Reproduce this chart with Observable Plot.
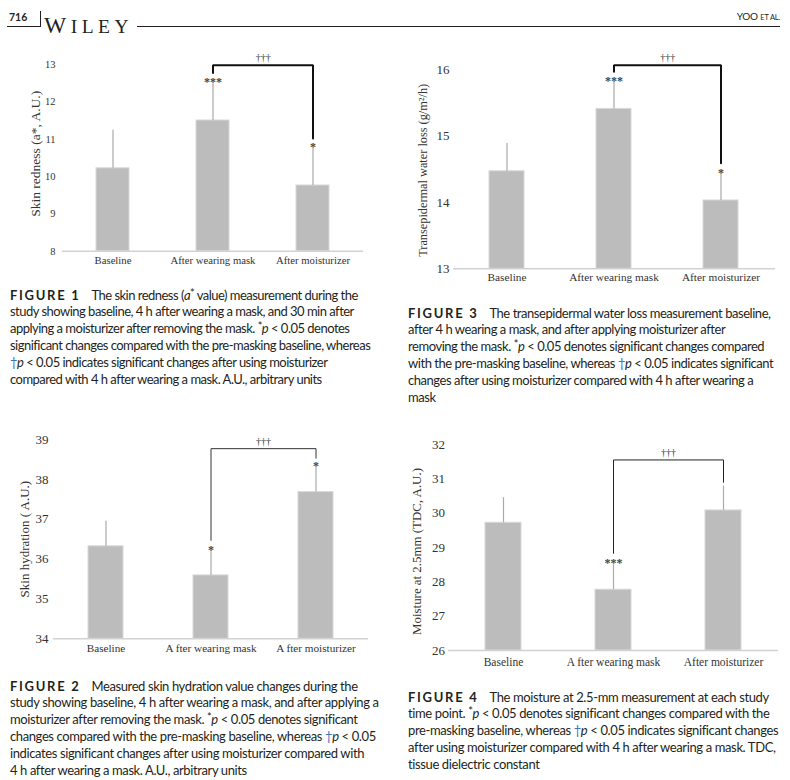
<!DOCTYPE html>
<html><head><meta charset="utf-8">
<script src="https://cdn.jsdelivr.net/npm/d3@7"></script>
<script src="https://cdn.jsdelivr.net/npm/@observablehq/plot@0.6"></script>
<style>
html,body{margin:0;padding:0;background:#fff;}
#page{position:relative;width:790px;height:780px;overflow:hidden;font-family:Lato,"Open Sans",sans-serif;color:#231f20;}
.abs{position:absolute;}
.rule{position:absolute;background:#231f20;}
.cap{position:absolute;font-size:13px;line-height:16.8px;white-space:nowrap;color:#231f20;}
.cap .ln{display:block;}
.cap .fig{font-weight:700;letter-spacing:1.7px;font-size:13px;margin-right:11px;}
.cap sup{font-size:11px;line-height:0;vertical-align:3px;}
.dag{color:#3b73b9;}
</style></head><body><div id="page">
<div class="abs" style="left:9px;top:11px;font-size:10.5px;font-weight:700;">716</div>
<div class="rule" style="left:7px;top:26px;width:33px;height:1px;"></div>
<div class="rule" style="left:40px;top:11px;width:1px;height:16px;"></div>
<div class="abs" style="left:44px;top:14px;font-family:'Liberation Serif',serif;font-size:19.5px;letter-spacing:4.5px;line-height:22px;"><span style="font-size:23.5px">W</span>ILEY</div>
<div class="rule" style="left:137px;top:26px;width:643px;height:1px;"></div>
<div class="abs" style="right:10px;top:10px;font-size:10px;letter-spacing:-0.2px;">YOO <span style="font-size:7.5px">ET AL.</span></div>

<div class="cap" id="cap1" style="left:10px;top:286.6px">
<span class="ln"><span class="fig">FIGURE 1</span>The skin redness (<i>a</i><sup>*</sup> value) measurement during the</span>
<span class="ln">study showing baseline, 4 h after wearing a mask, and 30 min after</span>
<span class="ln">applying a moisturizer after removing the mask. <sup>*</sup><i>p</i> &lt; 0.05 denotes</span>
<span class="ln">significant changes compared with the pre-masking baseline, whereas</span>
<span class="ln"><span class="dag">†</span><i>p</i> &lt; 0.05 indicates significant changes after using moisturizer</span>
<span class="ln">compared with 4 h after wearing a mask. A.U., arbitrary units</span>
</div>
<div class="cap" id="cap3" style="left:408px;top:304.6px">
<span class="ln"><span class="fig">FIGURE 3</span>The transepidermal water loss measurement baseline,</span>
<span class="ln">after 4 h wearing a mask, and after applying moisturizer after</span>
<span class="ln">removing the mask. <sup>*</sup><i>p</i> &lt; 0.05 denotes significant changes compared</span>
<span class="ln">with the pre-masking baseline, whereas <span class="dag">†</span><i>p</i> &lt; 0.05 indicates significant</span>
<span class="ln">changes after using moisturizer compared with 4 h after wearing a</span>
<span class="ln">mask</span>
</div>
<div class="cap" id="cap2" style="left:10px;top:677.6px">
<span class="ln"><span class="fig">FIGURE 2</span>Measured skin hydration value changes during the</span>
<span class="ln">study showing baseline, 4 h after wearing a mask, and after applying a</span>
<span class="ln">moisturizer after removing the mask. <sup>*</sup><i>p</i> &lt; 0.05 denotes significant</span>
<span class="ln">changes compared with the pre-masking baseline, whereas <span class="dag">†</span><i>p</i> &lt; 0.05</span>
<span class="ln">indicates significant changes after using moisturizer compared with</span>
<span class="ln">4 h after wearing a mask. A.U., arbitrary units</span>
</div>
<div class="cap" id="cap4" style="left:408px;top:688.6px">
<span class="ln"><span class="fig">FIGURE 4</span>The moisture at 2.5-mm measurement at each study</span>
<span class="ln">time point. <sup>*</sup><i>p</i> &lt; 0.05 denotes significant changes compared with the</span>
<span class="ln">pre-masking baseline, whereas <span class="dag">†</span><i>p</i> &lt; 0.05 indicates significant changes</span>
<span class="ln">after using moisturizer compared with 4 h after wearing a mask. TDC,</span>
<span class="ln">tissue dielectric constant</span>
</div>
</div>
<script>
// ---------- data ----------
const cats = ["Baseline", "After wearing mask", "After moisturizer"];
const catsFig2 = ["Baseline", "A fter wearing mask", "A fter moisturizer"];
const catsFig4 = ["Baseline", "A fter wearing mask", "After moisturizer"];

const rednessMean = [10.22, 11.50, 9.76];
const rednessSD = [1.02, 1.00, 0.99];
const rednessStars = ["", "***", "*"];
const rednessBracket = [12.77, 12.98, 11.02]; // left end, top, right end
const rednessTicks = [8, 9, 10, 11, 12, 13];

const tewlMean = [14.47, 15.41, 14.03];
const tewlSD = [0.42, 0.41, 0.40];
const tewlStars = ["", "***", "*"];
const tewlBracket = [15.97, 16.07, 14.59];
const tewlTicks = [13, 14, 15, 16];

const hydrationMean = [36.32, 35.59, 37.68];
const hydrationSD = [0.63, 0.62, 0.62];
const hydrationStars = ["", "*", "*"];
const hydrationBracket = [36.47, 38.77, 38.53];
const hydrationTicks = [34, 35, 36, 37, 38, 39];

const moistureMean = [29.72, 27.77, 30.08];
const moistureSD = [0.73, 0.73, 0.71];
const moistureStars = ["", "***", ""];
const moistureBracket = [28.83, 31.55, 30.90];
const moistureTicks = [26, 27, 28, 29, 30, 31, 32];

const dagger = "†††";

// ---------- chart builder ----------
function chart(cfg) {
  const {cats, means, sds, stars, bracket, ticks, label} = cfg;
  const data = cats.map((c, i) => ({cat: c, mean: means[i], top: means[i] + sds[i], star: stars[i]}));
  const br = [
    {cat: cats[1], y: bracket[0]},
    {cat: cats[1], y: bracket[1]},
    {cat: cats[2], y: bracket[1]},
    {cat: cats[2], y: bracket[2]}
  ];
  const ymin = ticks[0], ymax = ticks[ticks.length - 1];
  const step = (cfg.width - cfg.ml - cfg.mr) / cats.length;
  const serif = "'Liberation Serif','Times New Roman',serif";
  const p = Plot.plot({
    width: cfg.width, height: cfg.height,
    marginLeft: cfg.ml, marginRight: cfg.mr, marginTop: cfg.mt, marginBottom: cfg.mb,
    style: {fontFamily: serif, color: "#333", background: "transparent", overflow: "visible"},
    x: {type: "band", domain: cats, paddingInner: 0.67, paddingOuter: 0.335},
    y: {domain: [ymin, ymax]},
    marks: [
      Plot.barY(data, {x: "cat", y1: ymin, y2: "mean", fill: "#bcbcbc", stroke: "#d8d8d8", strokeWidth: 1}),
      Plot.ruleY([ymin], {stroke: "#d2d2d2", strokeWidth: 1.6}),
      Plot.ruleX(data, {x: "cat", y1: "mean", y2: "top", stroke: cfg.whisker, strokeWidth: 1.2}),
      Plot.axisY({ticks, tickSize: 0, tickPadding: cfg.ypad, fontSize: cfg.yfont, tickFormat: d3.format("d"), label: null, fill: "#333"}),
      Plot.axisX({tickSize: 0, tickPadding: cfg.xpad, fontSize: cfg.xfont, label: null, fill: "#333"}),
      Plot.text(data, {x: "cat", y: "top", text: "star", lineAnchor: "middle", dy: cfg.stardy, fontSize: 12, fill: "#444", fontWeight: "bold"}),
      Plot.line(br, {x: "cat", y: "y", stroke: cfg.bcolor, strokeWidth: cfg.bwidth, strokeLinejoin: "miter"}),
      Plot.text([{cat: cats[1], y: bracket[1], t: dagger}], {x: "cat", y: "y", text: "t", dx: step / 2, dy: -7, fontSize: 10, fill: "#333"}),
      Plot.text([label], {frameAnchor: "left", textAnchor: "middle", lineAnchor: "middle", rotate: -90, dx: cfg.ldx, dy: cfg.ldy, fontSize: cfg.lfont, fill: "#333", text: d => d})
    ]
  });
  p.style.position = "absolute";
  p.style.left = cfg.left + "px";
  p.style.top = cfg.top + "px";
  document.getElementById("page").appendChild(p);
}

chart({cats, means: rednessMean, sds: rednessSD, stars: rednessStars, bracket: rednessBracket, ticks: rednessTicks,
  label: "Skin redness (a*, A.U.)",
  left: 0, top: 40, width: 390, height: 240, ml: 62, mr: 27, mt: 24, mb: 29.3,
  ypad: 7, yfont: 10.5, xpad: 5, xfont: 10.7, lfont: 13.5, ldx: -27, ldy: -4, stardy: -1,
  whisker: "#a8a8a8", bcolor: "#111", bwidth: 2});

chart({cats, means: tewlMean, sds: tewlSD, stars: tewlStars, bracket: tewlBracket, ticks: tewlTicks,
  label: "Transepidermal water loss (g/m²/h)",
  left: 395, top: 40, width: 395, height: 260, ml: 58, mr: 15, mt: 29.3, mb: 31.7,
  ypad: 4, yfont: 13, xpad: 4, xfont: 11.3, lfont: 12.3, ldx: -30, ldy: 1, stardy: -1,
  whisker: "#a8a8a8", bcolor: "#111", bwidth: 2});

chart({cats: catsFig2, means: hydrationMean, sds: hydrationSD, stars: hydrationStars, bracket: hydrationBracket, ticks: hydrationTicks,
  label: "Skin hydration ( A.U.)",
  left: 0, top: 420, width: 390, height: 250, ml: 53, mr: 22, mt: 19, mb: 31.7,
  ypad: 5, yfont: 13, xpad: 5.5, xfont: 11.2, lfont: 13, ldx: -29, ldy: 0, stardy: -1,
  whisker: "#aaaaaa", bcolor: "#333", bwidth: 1});

chart({cats: catsFig4, means: moistureMean, sds: moistureSD, stars: moistureStars, bracket: moistureBracket, ticks: moistureTicks,
  label: "Moisture at 2.5mm (TDC, A.U.)",
  left: 395, top: 420, width: 395, height: 260, ml: 53, mr: 12, mt: 24, mb: 30,
  ypad: 3.5, yfont: 13, xpad: 7, xfont: 11.5, lfont: 12.9, ldx: -32, ldy: 4, stardy: -2,
  whisker: "#aaaaaa", bcolor: "#222", bwidth: 1});

// ---------- fit caption widths to reference line lengths ----------
function fitCaption(id, lineIndex, target) {
  const cap = document.getElementById(id);
  const lines = cap.querySelectorAll(".ln");
  const ln = lines[lineIndex];
  ln.style.display = "inline-block";
  const w = ln.getBoundingClientRect().width;
  ln.style.display = "";
  const n = ln.textContent.length;
  cap.style.letterSpacing = ((target - w) / n).toFixed(3) + "px";
}
fitCaption("cap1", 3, 360);
fitCaption("cap3", 3, 365);
fitCaption("cap2", 1, 368);
fitCaption("cap4", 2, 370);
</script>
</body></html>
